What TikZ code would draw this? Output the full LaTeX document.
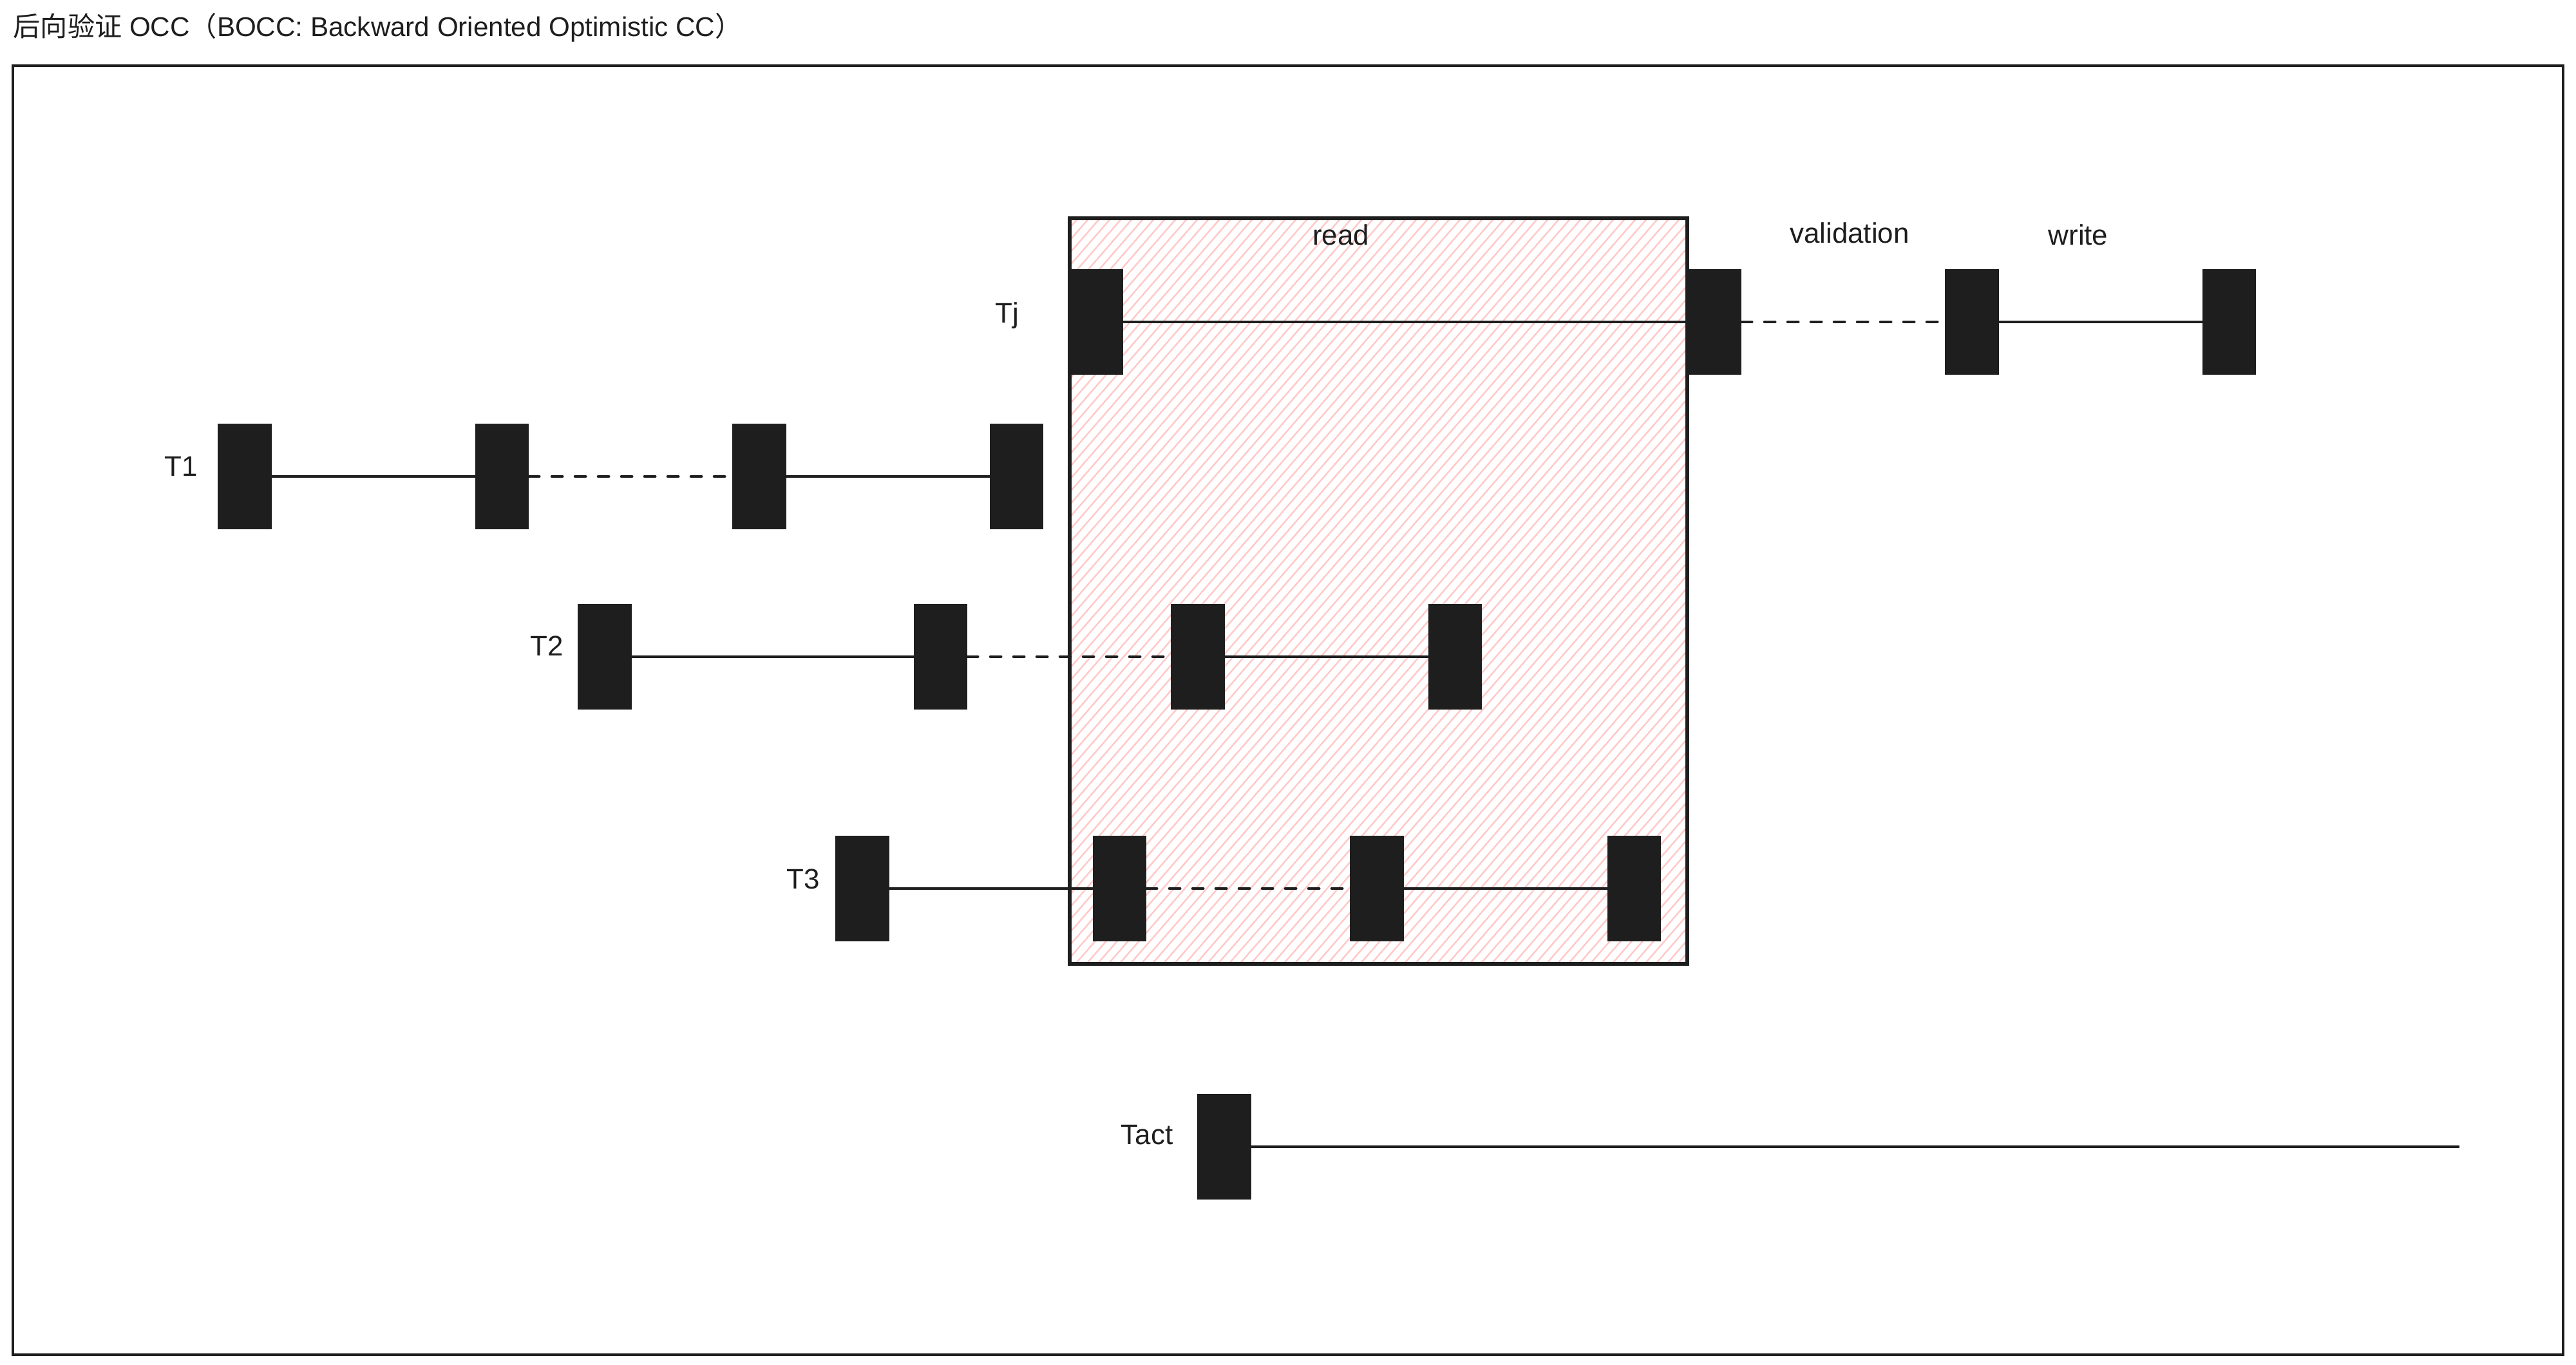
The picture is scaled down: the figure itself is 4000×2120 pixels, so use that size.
\documentclass[tikz,border=0pt]{standalone}
\usepackage{fontspec}
\setmainfont{Liberation Sans}
\newfontfamily\cjk{Noto Sans CJK SC}
\usepackage{xcolor}
\usetikzlibrary{positioning}
\definecolor{ink}{HTML}{1E1E1E}
\definecolor{hatchred}{HTML}{FFC9C9}

\begin{document}
\begin{tikzpicture}[x=0.1mm,y=-0.1mm,node distance=31.6mm,
  every node/.style={font=\fontsize{12.5}{15}\selectfont,text=ink},
  bar/.style={fill=ink,draw=ink,minimum width=8.2mm,minimum height=16.3mm,inner sep=0pt},
  run/.style={draw=ink,line width=1.4pt},
  wait/.style={run,dash pattern=on 1.6mm off 2.0mm,line cap=round},
  lbl/.style={inner sep=1pt}]
  \useasboundingbox (0,0) rectangle (4000,2120);
  % frame and title
  \node[anchor=west,inner sep=0pt,font=\fontsize{12}{14}\selectfont] (title) at (20,43)
    {{\cjk 后向验证} OCC{\cjk （}BOCC: Backward Oriented Optimistic CC{\cjk ）}};
  \draw[ink,line width=1.1pt] (20,102) rectangle (3980,2104);
  % read phase of Tj
  \begin{scope}
    \clip (1661,339) rectangle (2620,1497);
    \foreach \x in {650,667,...,2640}
      \draw[hatchred,line width=0.7pt] (\x,1497) -- ++(1007,-1158);
  \end{scope}
  \draw[ink,line width=1.6pt] (1661,339) rectangle (2620,1497);
  \node[lbl] (read) at (2082,365) {read};
  \node[lbl] (valid) at (2872,362) {validation};
  \node[lbl] (write) at (3227,365) {write};

  % Tj
  \node[bar] (tj1) at (1702,500) {};
  \node[bar,right=87.7mm of tj1] (tj2) {};
  \node[bar,right=of tj2] (tj3) {};
  \node[bar,right=of tj3] (tj4) {};
  \node[lbl] (tjl) at (1564,490) {Tj};
  \draw[run] (tj1) -- (tj2);
  \draw[wait] (tj2) -- (tj3);
  \draw[run] (tj3) -- (tj4);

  % T1
  \node[bar] (t1a) at (380,740) {};
  \node[bar,right=of t1a] (t1b) {};
  \node[bar,right=of t1b] (t1c) {};
  \node[bar,right=of t1c] (t1d) {};
  \node[lbl] (t1l) at (281,724) {T1};
  \draw[run] (t1a) -- (t1b);
  \draw[wait] (t1b) -- (t1c);
  \draw[run] (t1c) -- (t1d);

  % T2
  \node[bar] (t2a) at (939,1020) {};
  \node[bar,right=43.8mm of t2a] (t2b) {};
  \node[bar,right=of t2b] (t2c) {};
  \node[bar,right=of t2c] (t2d) {};
  \node[lbl] (t2l) at (849,1003) {T2};
  \draw[run] (t2a) -- (t2b);
  \draw[wait] (t2b) -- (t2c);
  \draw[run] (t2c) -- (t2d);

  % T3
  \node[bar] (t3a) at (1339,1380) {};
  \node[bar,right=of t3a] (t3b) {};
  \node[bar,right=of t3b] (t3c) {};
  \node[bar,right=of t3c] (t3d) {};
  \node[lbl] (t3l) at (1247,1365) {T3};
  \draw[run] (t3a) -- (t3b);
  \draw[wait] (t3b) -- (t3c);
  \draw[run] (t3c) -- (t3d);

  % Tact
  \node[bar] (tact) at (1901,1781) {};
  \node[lbl] (tactl) at (1781,1763) {Tact};
  \coordinate (tactend) at (3819,1781);
  \draw[run] (tact) -- (tactend);
\end{tikzpicture}
\end{document}
